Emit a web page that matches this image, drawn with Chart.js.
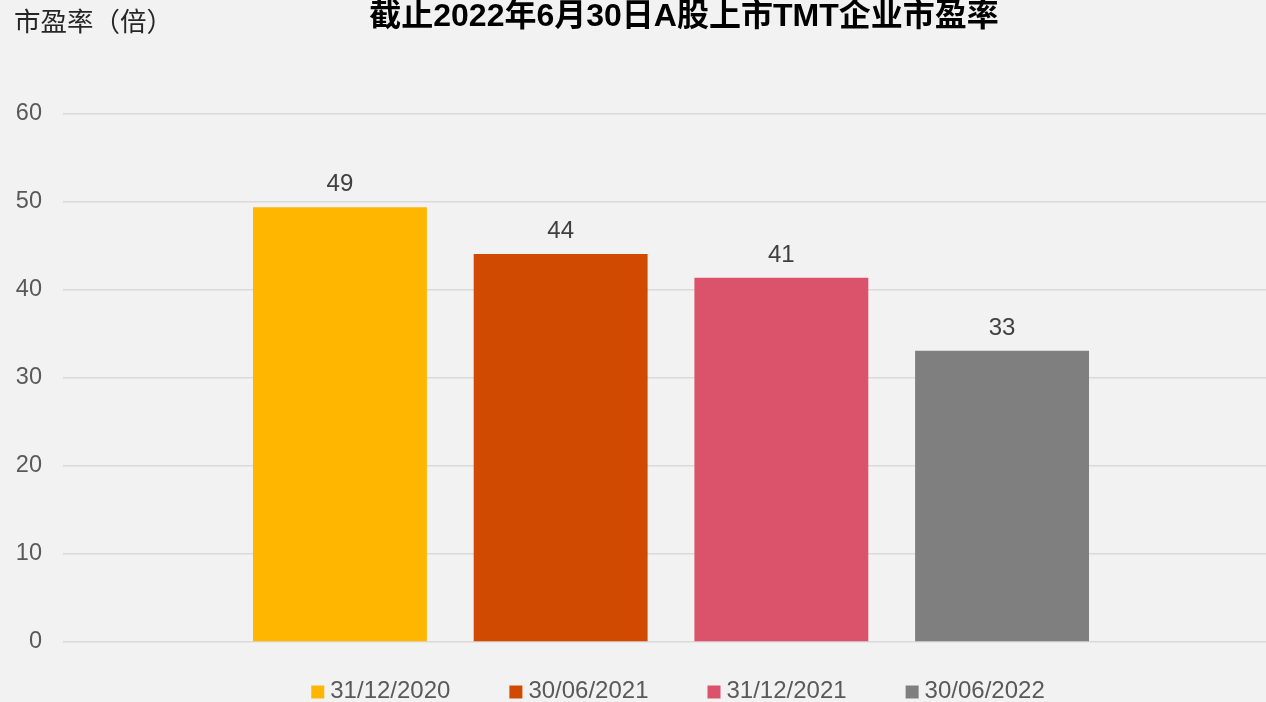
<!DOCTYPE html>
<html>
<head>
<meta charset="utf-8">
<script src="https://cdn.jsdelivr.net/npm/chart.js@4"></script>
<style>
  html, body { margin: 0; padding: 0; background: #f2f2f2; overflow: hidden; }
  canvas { display: block; }
</style>
</head>
<body>
<canvas id="grafico" width="1279" height="702"></canvas>
<script>
// ---- dados ----
const seriesLabels = ['31/12/2020', '30/06/2021', '31/12/2021', '30/06/2022'];
const seriesValues = [49.4, 44.1, 41.4, 33.1];
const seriesColors = ['#FFB600', '#D04A02', '#DB536A', '#7F7F7F'];
const yTicks = [0, 10, 20, 30, 40, 50, 60];
const chartTitle = '截止2022年6月30日A股上市TMT企业市盈率';
const yUnit = '市盈率（倍）';

const FONT = '"Liberation Sans", Arial, "Noto Sans CJK SC", sans-serif';

// ---- textos extras: titulo, unidade, rotulos, legenda ----
const extrasPlugin = {
  id: 'extras',
  afterDatasetsDraw(chart) {
    const ctx = chart.ctx;
    ctx.save();

    // rotulos de valor
    ctx.font = '24px ' + FONT;
    ctx.fillStyle = '#404040';
    ctx.textAlign = 'center';
    ctx.textBaseline = 'alphabetic';
    chart.data.datasets.forEach((ds, i) => {
      const bar = chart.getDatasetMeta(i).data[0];
      ctx.fillText(Math.round(ds.data[0]).toString(), bar.x, bar.y - 16);
    });

    // titulo
    ctx.font = 'bold 32px ' + FONT;
    ctx.fillStyle = '#000000';
    ctx.textBaseline = 'middle';
    ctx.fillText(chartTitle, 684, 17);

    // unidade do eixo y
    ctx.font = '26.5px ' + FONT;
    ctx.fillStyle = '#262626';
    ctx.textAlign = 'left';
    ctx.fillText(yUnit, 14, 24);

    // legenda
    ctx.font = '24px ' + FONT;
    const box = 13, gapBox = 6, gapItem = 59;
    const widths = seriesLabels.map(t => ctx.measureText(t).width);
    const total = widths.reduce((a, w) => a + box + gapBox + w, 0) + gapItem * (seriesLabels.length - 1);
    let x = 678 - total / 2;
    const yMid = 691;
    seriesLabels.forEach((t, i) => {
      ctx.fillStyle = seriesColors[i];
      ctx.fillRect(x, yMid - box / 2 + 1, box, box);
      ctx.fillStyle = '#595959';
      ctx.textBaseline = 'middle';
      ctx.fillText(t, x + box + gapBox, yMid);
      x += box + gapBox + widths[i] + gapItem;
    });

    ctx.restore();
  }
};

new Chart(document.getElementById('grafico'), {
  type: 'bar',
  data: {
    labels: [''],
    datasets: seriesLabels.map((lbl, i) => ({
      label: lbl,
      data: [seriesValues[i]],
      backgroundColor: seriesColors[i],
      borderWidth: 0,
      categoryPercentage: 0.726,
      barPercentage: 0.788
    }))
  },
  options: {
    responsive: false,
    animation: false,
    layout: { padding: { top: 114, bottom: 60, left: 0, right: 0 } },
    plugins: {
      legend: { display: false },
      title: { display: false },
      tooltip: { enabled: false }
    },
    scales: {
      x: {
        display: false
      },
      y: {
        min: yTicks[0],
        max: yTicks[yTicks.length - 1],
        afterBuildTicks: axis => { axis.ticks = yTicks.map(v => ({ value: v })); },
        afterFit: axis => { axis.width = 63; },
        border: { display: false },
        grid: { color: '#d9d9d9', lineWidth: 1.5, drawTicks: false },
        ticks: {
          padding: 21,
          color: '#595959',
          font: { size: 23.5, family: FONT }
        }
      }
    }
  },
  plugins: [extrasPlugin]
});
</script>
</body>
</html>
